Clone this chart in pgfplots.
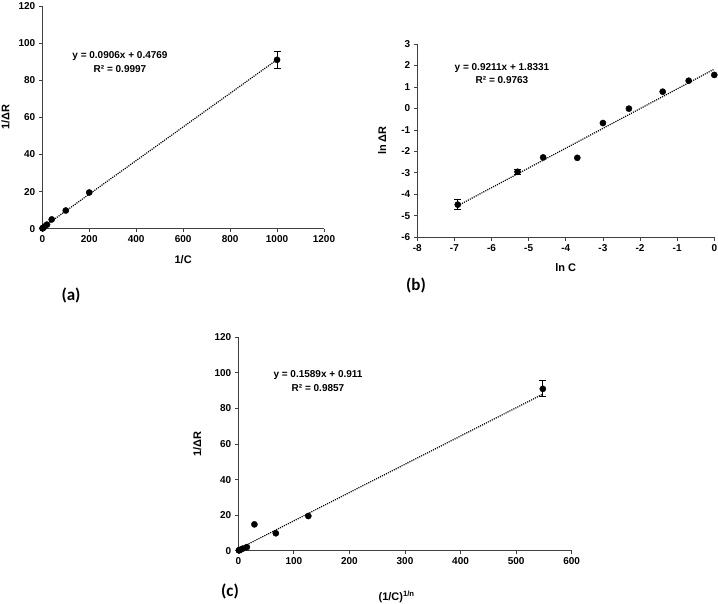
\documentclass[border=0pt]{standalone}
\usepackage{fontspec}
\setmainfont{Liberation Sans}
\newfontfamily\panelfont{Carlito}
\usepackage{pgfplots}
\pgfplotsset{compat=1.18}

\pgfplotsset{
  panel/.style={
    scale only axis,
    axis lines=left,
    axis line style={-, line width=0.8pt, black!75},
    tick align=outside,
    major tick length=3.5pt,
    tick style={black!75, line width=0.8pt},
    ticklabel style={font=\bfseries\fontsize{10}{12}\selectfont},
    /pgf/number format/assume math mode=true,
    /pgf/number format/1000 sep={},
    label style={font=\bfseries\fontsize{11}{13}\selectfont},
    clip=false,
  },
  pts/.style={only marks, mark=*, mark size=3.1pt, black},
  errpts/.style={only marks, mark=*, mark size=3.1pt, black,
    error bars/.cd, y dir=both, y explicit,
    error mark options={black, line width=0.8pt, mark size=3.5pt, rotate=90},
    error bar style={black, line width=0.8pt}},
  trend/.style={black, line width=1.2pt, dash pattern=on 1.1pt off 1.1pt, no marks},
}
\tikzset{
  eqn/.style={font=\bfseries\fontsize{10}{13.5}\selectfont, align=center},
  letter/.style={font=\panelfont\bfseries\fontsize{17}{20}\selectfont},
}

\begin{document}
\begin{tikzpicture}
\path[use as bounding box] (0,0) rectangle (718pt,604pt);

% (a) reciprocal plot
\begin{axis}[panel,
  at={(42.3pt,375.3pt)}, anchor=south west,
  width=281.7pt, height=222.7pt,
  xmin=0, xmax=1200, ymin=0, ymax=120,
  xtick distance=200, ytick distance=20,
  xlabel={1/C}, ylabel={1/ΔR},
  xlabel style={at={(axis description cs:0.5,-0.139)}, anchor=center},
  ylabel style={at={(axis description cs:-0.131,0.5)}, anchor=center},
]
\addplot[trend] coordinates {(1,0.57) (1000,91.08)};
\addplot[pts] table {
x y
200 19.5
100 9.8
40 5.0
20 2.2
10 1.2
4 0.5
2 0.3
1 0.2
};
\addplot[errpts] table[y error=e] {
x y e
1000 91.0 4.5
};
\end{axis}
\node[eqn] at (120pt,542pt) {y = 0.0906x + 0.4769\\R² = 0.9997};

% (b) logarithmic plot
\begin{axis}[panel,
  at={(417.3pt,366.7pt)}, anchor=south west,
  width=297pt, height=193.3pt,
  xmin=-8, xmax=0, ymin=-6, ymax=3,
  xtick distance=1, ytick distance=1,
  xlabel={ln C}, ylabel={ln ΔR},
  xlabel style={at={(axis description cs:0.5,-0.155)}, anchor=center},
  ylabel style={at={(axis description cs:-0.118,0.5)}, anchor=center},
]
\addplot[trend] coordinates {(-6.9,-4.52) (0,1.83)};
\addplot[pts] table {
x y
-4.61 -2.28
-3.69 -2.30
-3.00 -0.68
-2.30 -0.01
-1.39 0.78
-0.69 1.29
0 1.56
};
\addplot[errpts] table[y error=e] {
x y e
-6.91 -4.48 0.23
-5.30 -2.95 0.10
};
\end{axis}
\node[eqn] at (502pt,530.3pt) {y = 0.9211x + 1.8331\\R² = 0.9763};

% (c) power plot
\begin{axis}[panel,
  at={(238.3pt,53.3pt)}, anchor=south west,
  width=333.4pt, height=213.4pt,
  xmin=0, xmax=600, ymin=0, ymax=120,
  xtick distance=100, ytick distance=20,
  xlabel={(1/C)\textsuperscript{1/n}}, ylabel={1/ΔR},
  xlabel style={at={(axis description cs:0.475,-0.215)}, anchor=center},
  ylabel style={at={(axis description cs:-0.123,0.5)}, anchor=center},
]
\addplot[trend] coordinates {(1,1.07) (548,88.0)};
\addplot[pts] table {
x y
126 19.5
67.5 9.8
29 14.8
15.4 2.0
8.2 1.2
3.5 0.5
1.9 0.3
1 0.2
};
\addplot[errpts] table[y error=e] {
x y e
548 91.0 4.5
};
\end{axis}
\node[eqn] at (318pt,223pt) {y = 0.1589x + 0.911\\R² = 0.9857};

% panel letters
\node[letter] at (71pt,308.3pt) {(a)};
\node[letter] at (416pt,319pt) {(b)};
\node[letter] at (230pt,12.3pt) {(c)};
\end{tikzpicture}
\end{document}
